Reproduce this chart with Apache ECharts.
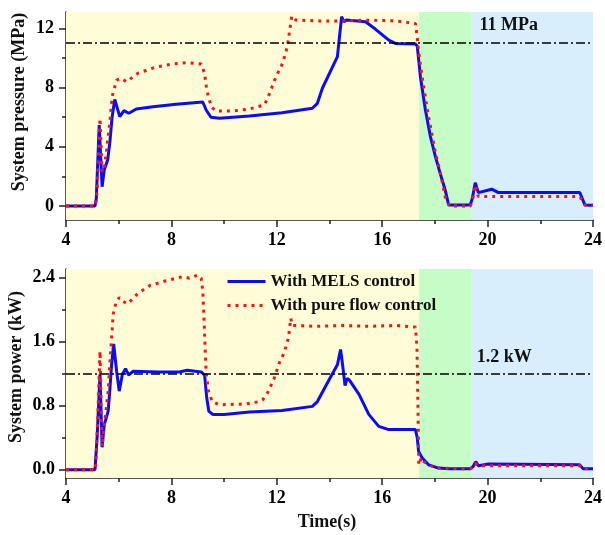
<!DOCTYPE html>
<html>
<head>
<meta charset="utf-8">
<script src="https://cdn.jsdelivr.net/npm/echarts@6/dist/echarts.min.js"></script>
<style>
  html, body { margin: 0; padding: 0; background: #fff; }
  #chart { width: 605px; height: 535px; }
</style>
</head>
<body>
<div id="chart"></div>
<script>
// ---------- DATA ----------
const xTicks = [4, 8, 12, 16, 20, 24];
const pressureTicks = [0, 4, 8, 12];
const pressureMinorTicks = [2, 6, 10];
const powerTicks = [0, 0.8, 1.6, 2.4];
const powerMinorTicks = [0.4, 1.2, 2.0];

const phaseBounds = [4, 17.4, 19.4, 24];
const pressureLimit = 11;
const powerLimit = 1.2;
const seriesNames = ['With MELS control', 'With pure flow control'];

// System pressure, MELS control
const tPresMels = [4, 5.1, 5.15, 5.26, 5.37, 5.45, 5.58, 5.66, 5.75, 5.85, 6.04, 6.2, 6.38, 6.67, 7.3, 8.18, 9.19, 9.32, 9.5, 9.82, 10.96, 12.2, 13.35, 13.54, 13.73, 14.3, 14.46, 14.55, 14.64, 15.37, 15.75, 16.25, 16.5, 17.26, 17.33, 17.45, 17.64, 17.83, 18.02, 18.2, 18.39, 18.52, 19.34, 19.42, 19.53, 19.65, 19.72, 20.16, 20.41, 23.5, 23.69, 24];
const presMels = [0, 0, 0.5, 5.47, 1.3, 2.43, 3.1, 4.23, 6.0, 7.2, 6.03, 6.44, 6.26, 6.55, 6.7, 6.87, 7.02, 6.48, 5.99, 5.92, 6.08, 6.3, 6.6, 6.93, 7.95, 10.08, 12.78, 12.44, 12.56, 12.44, 11.93, 11.2, 10.98, 10.94, 10.8, 8.73, 6.48, 4.68, 3.33, 2.2, 1.08, 0.07, 0.07, 0.5, 1.57, 0.9, 0.86, 1.13, 0.9, 0.9, 0.07, 0.05];

// System pressure, pure flow control
const tPresFlow = [4, 5.12, 5.18, 5.29, 5.37, 5.45, 5.54, 5.66, 5.75, 5.92, 6.1, 6.29, 6.73, 7.36, 8.06, 8.56, 9.13, 9.26, 9.34, 9.51, 9.7, 10.32, 10.96, 11.52, 11.65, 11.97, 12.22, 12.4, 12.5, 12.57, 12.72, 13.5, 14.5, 15.5, 16.5, 17.26, 17.32, 17.38, 17.5, 17.76, 18.02, 18.2, 18.39, 18.55, 19.35, 19.45, 19.53, 19.65, 20.5, 23.5, 23.7, 24];
const presFlow = [0, 0, 1.0, 5.92, 2.3, 2.5, 3.78, 5.58, 7.38, 8.5, 8.62, 8.39, 8.96, 9.36, 9.59, 9.68, 9.59, 8.96, 7.83, 6.7, 6.41, 6.41, 6.55, 6.82, 7.27, 8.73, 9.63, 10.76, 12.0, 12.83, 12.56, 12.5, 12.5, 12.55, 12.5, 12.33, 11.55, 10.5, 8.9, 6.03, 3.6, 2.3, 0.63, 0, 0, 0.6, 1.42, 0.63, 0.63, 0.63, 0.05, 0.05];

// System power, MELS control
const tPowMels = [4, 5.1, 5.18, 5.29, 5.37, 5.45, 5.6, 5.66, 5.73, 5.81, 5.92, 6.02, 6.14, 6.26, 6.38, 6.55, 7.5, 8.3, 8.6, 9.13, 9.26, 9.34, 9.42, 9.57, 10.0, 10.96, 12.2, 13.35, 13.54, 13.98, 14.3, 14.42, 14.5, 14.59, 14.67, 14.75, 15.12, 15.49, 15.87, 16.25, 16.75, 17.26, 17.33, 17.38, 17.51, 17.76, 18.14, 18.52, 19.35, 19.45, 19.55, 19.65, 20.03, 23.5, 23.63, 24];
const powMels = [0, 0, 0.4, 1.19, 0.28, 0.56, 0.73, 0.98, 1.31, 1.57, 1.23, 0.98, 1.19, 1.26, 1.18, 1.23, 1.22, 1.22, 1.24, 1.22, 1.18, 0.9, 0.73, 0.69, 0.69, 0.72, 0.74, 0.79, 0.85, 1.12, 1.31, 1.5, 1.3, 1.05, 1.14, 1.12, 0.94, 0.69, 0.54, 0.5, 0.5, 0.5, 0.4, 0.23, 0.15, 0.06, 0.02, 0.01, 0.01, 0.04, 0.1, 0.05, 0.07, 0.06, 0.01, 0.01];

// System power, pure flow control
const tPowFlow = [4, 5.12, 5.2, 5.29, 5.37, 5.47, 5.6, 5.66, 5.73, 5.79, 5.89, 6.02, 6.17, 6.33, 6.73, 7.18, 7.93, 8.43, 8.68, 9.0, 9.13, 9.19, 9.23, 9.28, 9.32, 9.41, 9.55, 9.82, 10.82, 11.33, 11.46, 11.65, 11.9, 12.09, 12.28, 12.44, 12.53, 12.59, 13.5, 14.5, 15.5, 16.5, 17.26, 17.32, 17.35, 17.39, 17.49, 17.58, 18.02, 19.35, 19.45, 19.53, 19.65, 23.5, 23.63, 24];
const powFlow = [0, 0, 0.6, 1.48, 0.29, 0.6, 0.98, 1.31, 1.64, 1.94, 2.08, 2.15, 2.1, 2.07, 2.2, 2.3, 2.37, 2.41, 2.39, 2.43, 2.39, 2.23, 1.94, 1.52, 1.2, 0.98, 0.85, 0.81, 0.82, 0.85, 0.87, 0.96, 1.14, 1.33, 1.46, 1.64, 1.89, 1.8, 1.79, 1.8, 1.79, 1.8, 1.78, 1.53, 0.9, 0.06, 0.15, 0.1, 0.02, 0.01, 0.04, 0.08, 0.05, 0.05, 0.01, 0.01];

// ---------- STYLE ----------
const FONT = "'Liberation Serif', 'Times New Roman', serif";
const AX = '#222';
const zip = (a, b) => a.map((x, i) => [x, b[i]]);
const phaseColors = ['#fffdd8', '#c6fdc6', '#d8eefc'];

function xAxes(gridIndex) {
  return [{
    type: 'value', gridIndex, min: 4, max: 24, interval: 4,
    axisLine: { show: true, onZero: false, lineStyle: { color: AX, width: 1.5 } },
    axisTick: { show: true, length: 7, lineStyle: { color: AX, width: 1.5 } },
    minorTick: { show: true, splitNumber: 2, length: 4, lineStyle: { color: AX, width: 1.5 } },
    splitLine: { show: false },
    axisLabel: { fontFamily: FONT, fontWeight: 'bold', fontSize: 18, color: '#000', margin: 11 }
  }];
}
function yAxes(gridIndex, min, max, ticks, minor, fmt, margin) {
  return [{
    type: 'value', gridIndex, min, max,
    axisLine: { show: true, onZero: false, lineStyle: { color: AX, width: 1.5 } },
    axisTick: { show: true, length: 7, customValues: ticks, lineStyle: { color: AX, width: 1.5 } },
    splitLine: { show: false },
    axisLabel: { customValues: ticks, fontFamily: FONT, fontWeight: 'bold', fontSize: 18, color: '#000', margin, formatter: fmt }
  }, {
    type: 'value', gridIndex, min, max, position: 'left',
    axisLine: { show: false },
    axisTick: { show: true, length: 4, customValues: minor, lineStyle: { color: AX, width: 1.5 } },
    splitLine: { show: false },
    axisLabel: { show: false }
  }];
}

function bgSeries(xi, yi) {
  return {
    type: 'line', xAxisIndex: xi, yAxisIndex: yi, data: [], silent: true, z: 0,
    markArea: {
      silent: true,
      data: [0, 1, 2].map(i => [
        { xAxis: phaseBounds[i], itemStyle: { color: phaseColors[i], opacity: 1 } },
        { xAxis: phaseBounds[i + 1] }
      ])
    }
  };
}
function limitSeries(xi, yi, val, text, coord) {
  return {
    type: 'line', xAxisIndex: xi, yAxisIndex: yi, data: [], silent: true, z: 1,
    markLine: {
      silent: true, symbol: 'none', animation: false,
      label: { show: false },
      lineStyle: { color: '#000', width: 1.5, type: [9, 3, 2, 3] },
      data: [{ yAxis: val }]
    },
    markPoint: {
      silent: true, symbol: 'rect', symbolSize: 0, animation: false,
      label: { show: true, position: 'inside', formatter: text, fontFamily: FONT, fontWeight: 'bold', fontSize: 18, color: '#111' },
      data: [{ coord }]
    }
  };
}
function curve(name, xi, yi, data, isFlow) {
  return {
    name, type: 'line', xAxisIndex: xi, yAxisIndex: yi, data,
    showSymbol: false, symbol: 'none', animation: false, z: isFlow ? 4 : 3,
    lineStyle: isFlow
      ? { color: '#ff1010', width: 3, type: [3, 5] }
      : { color: '#0a0aff', width: 3 },
    itemStyle: { color: isFlow ? '#ff1010' : '#0a0aff' }
  };
}

const chart = echarts.init(document.getElementById('chart'), null, { renderer: 'canvas' });
chart.setOption({
  animation: false,
  backgroundColor: '#fff',
  grid: [
    { left: 66, right: 10, top: 12, height: 208 },
    { left: 66, right: 10, top: 269, height: 209 }
  ],
  xAxis: [...xAxes(0), ...xAxes(1)],
  yAxis: [
    ...yAxes(0, -0.95, 13.1, pressureTicks, pressureMinorTicks, v => String(Math.round(v)), 12),
    ...yAxes(1, -0.104, 2.505, powerTicks, powerMinorTicks, v => v.toFixed(1), 11)
  ],
  legend: {
    left: 221, top: 268, orient: 'vertical', itemWidth: 38, itemHeight: 14, itemGap: 7,
    data: seriesNames,
    itemStyle: { opacity: 0 },
    lineStyle: { width: 3 },
    textStyle: { fontFamily: FONT, fontWeight: 'bold', fontSize: 17, color: '#111' }
  },
  graphic: [
    { type: 'text', x: 19, y: 102, rotation: Math.PI / 2,
      style: { text: 'System pressure (MPa)', font: "bold 18px 'Liberation Serif', serif", fill: '#111', align: 'center', verticalAlign: 'middle' } },
    { type: 'text', x: 16, y: 367, rotation: Math.PI / 2,
      style: { text: 'System power (kW)', font: "bold 18px 'Liberation Serif', serif", fill: '#111', align: 'center', verticalAlign: 'middle' } },
    { type: 'text', x: 327, y: 522,
      style: { text: 'Time(s)', font: "bold 18px 'Liberation Serif', serif", fill: '#111', align: 'center', verticalAlign: 'middle' } }
  ],
  series: [
    bgSeries(0, 0),
    bgSeries(1, 2),
    limitSeries(0, 0, pressureLimit, '11 MPa', [20.8, 12.2]),
    limitSeries(1, 2, powerLimit, '1.2 kW', [20.63, 1.40]),
    curve(seriesNames[0], 0, 0, zip(tPresMels, presMels), false),
    curve(seriesNames[1], 0, 0, zip(tPresFlow, presFlow), true),
    curve(seriesNames[0], 1, 2, zip(tPowMels, powMels), false),
    curve(seriesNames[1], 1, 2, zip(tPowFlow, powFlow), true)
  ]
});
</script>
</body>
</html>
